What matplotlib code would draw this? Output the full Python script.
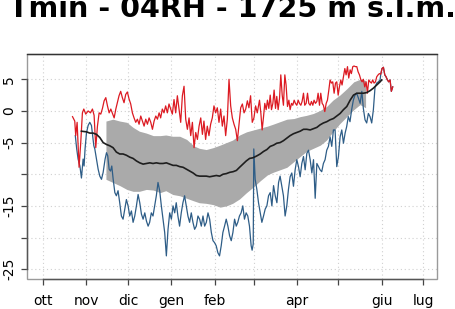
import matplotlib
matplotlib.use("Agg")
import matplotlib.pyplot as plt
from matplotlib.patches import Rectangle

# days counted from 1 October
max_days = [21.0, 22.6, 23.3, 24.3, 25.7, 26.9, 28.1, 29.1, 30.5, 32.2, 33.9, 35.3, 36.5, 37.7,
            38.9, 40.1, 41.3, 42.5, 43.7, 44.9, 46.1, 47.3, 48.5, 49.7, 50.9, 52.1, 53.2, 54.4,
            55.6, 56.8, 58.0, 59.2, 60.4, 61.6, 62.8, 64.0, 65.2, 66.4, 67.6, 68.8, 70.0, 71.2,
            72.4, 73.6, 74.8, 76.0, 77.2, 78.4, 79.6, 80.8, 82.0, 83.2, 84.3, 85.5, 86.7, 87.9,
            89.1, 90.3, 91.5, 92.7, 93.9, 95.1, 96.3, 97.5, 98.7, 99.9, 101.1, 102.3, 103.5,
            104.7, 105.9, 107.1, 108.3, 109.5, 110.7, 111.9, 113.1, 114.3, 115.4, 116.6, 117.8,
            119.0, 120.2, 121.4, 122.6, 123.8, 125.0, 126.2, 127.4, 128.6, 129.8, 131.0, 132.2,
            133.4, 134.6, 135.8, 137.0, 138.2, 139.4, 140.6, 141.8, 143.0, 144.2, 145.4, 146.6,
            147.7, 148.9, 150.1, 151.3, 152.5, 153.7, 155.3, 156.3, 157.2, 158.2, 159.1, 160.1,
            161.0, 162.0, 163.0, 163.9, 164.9, 165.8, 166.8, 167.7, 168.7, 169.7, 170.6, 171.6,
            172.5, 173.5, 174.4, 175.4, 176.4, 177.3, 178.3, 179.2, 180.2, 181.1, 182.1, 183.1,
            184.0, 185.0, 185.9, 186.9, 187.8, 188.8, 189.8, 190.7, 191.7, 192.6, 193.6, 194.5,
            195.5, 196.5, 197.4, 198.4, 199.3, 200.3, 201.2, 202.2, 203.2, 204.1, 205.1, 206.0,
            207.0, 207.9, 208.9, 209.9, 210.8, 211.8, 212.7, 213.7, 214.6, 215.6, 216.6, 217.5,
            218.5, 219.4, 220.4, 221.3, 222.3, 223.2, 224.2, 225.2, 226.1, 227.1, 228.0, 229.0,
            229.9, 230.9, 231.9, 232.8, 233.8, 234.7, 235.7, 236.6, 237.6, 238.6, 239.5, 240.5,
            241.4, 242.4, 243.3, 244.3, 245.3, 246.2, 247.2, 248.1, 249.1, 250.0, 251.0]
max_vals = [-0.9, -1.6, -3.9, -1.8, -8.9, -5.0, -0.3, 0.3, -0.5, 0.0, -0.3, 0.3, -0.7, -5.8,
            -2.4, -0.3, -0.5, 0.4, 1.6, 2.1, 0.8, -0.3, 0.3, -0.4, -1.1, 0.3, 1.3, 2.4,
            3.1, 2.1, 1.3, 2.6, 3.0, 1.9, 1.1, -0.3, -1.1, -1.8, -1.3, -2.1, -0.8, -1.6,
            -2.4, -1.3, -2.1, -1.1, -1.8, -2.9, -1.6, -0.8, -1.3, -0.3, -1.1, 0.3, -0.3, 0.8,
            -0.3, 1.1, 0.3, -0.5, 1.8, -0.3, 2.4, 0.3, -1.8, 2.4, 3.9, -1.3, -2.9,
            -1.1, -3.9, -1.8, -5.8, -3.4, -4.5, -2.4, -1.1, -3.7, -1.6, -4.5, -2.4,
            -3.9, -2.1, -1.1, 0.8, -0.3, 0.5, -1.8, 0.3, -2.4, -0.8, -3.9, -1.3,
            5.0, 0.8, -1.1, -2.1, -2.9, -4.7, -2.1, 0.5, 1.1, -0.3, 0.3, 1.6,
            0.5, 2.4, -1.8, -1.1, 0.8, -0.3, 1.7, -0.4, -3.0, -0.9, 1.2, 0.2,
            1.7, 0.4, 2.5, 0.2, 1.2, 3.3, 0.4, 2.3, 0.2, 2.0, 5.7, 2.5,
            0.9, 5.7, 4.1, 0.7, 1.7, 0.2, 1.2, 0.9, 1.7, 1.2, 0.9, 1.7,
            1.2, 0.9, 1.5, 2.8, 0.9, 1.2, 2.8, 1.2, 0.9, 1.5, 0.9, 1.7,
            1.2, 1.5, 2.8, 0.9, 2.8, 1.2, 0.9, -0.1, 1.2, 1.7, 3.3, 4.9,
            4.4, 4.6, 2.8, 4.4, 4.6, 2.5, 3.8, 4.9, 4.1, 5.4, 6.7, 5.7,
            7.0, 5.2, 6.5, 5.9, 7.0, 7.1, 7.0, 7.0, 6.2, 5.7, 5.0, 4.6,
            5.0, 3.8, 4.6, 2.8, 4.9, 4.6, 4.4, 4.9, 4.4, 4.6, 5.4, 5.7,
            5.9, 5.8, 6.7, 6.9, 5.7, 5.4, 4.9, 4.6, 4.9, 3.1, 3.8]

min_days = [23.0, 24.0, 25.0, 26.3, 27.4, 28.6, 29.3, 30.0, 31.0, 32.2, 33.4, 34.6, 35.3, 36.3,
            37.0, 38.2, 39.4, 40.6, 41.8, 43.0, 43.7, 44.4, 45.4, 46.3, 47.3, 48.3, 49.2, 50.2,
            51.4, 52.5, 53.7, 54.9, 56.1, 57.3, 58.5, 59.7, 60.9, 62.1, 63.3, 64.5, 65.7, 66.9,
            68.1, 69.3, 70.5, 71.7, 72.9, 74.1, 75.3, 76.4, 77.6, 78.8, 80.0, 81.2, 82.4, 83.6,
            84.8, 86.0, 87.2, 88.4, 89.6, 90.8, 92.0, 93.2, 94.4, 95.5, 96.7, 97.9, 99.1, 100.3,
            101.5, 102.7, 103.9, 105.1, 106.3, 107.5, 108.7, 109.9, 111.1, 112.3, 113.5, 114.7,
            115.9, 117.1, 118.3, 119.5, 120.7, 121.9, 123.0, 124.2, 125.4, 126.6, 127.8, 129.0,
            130.2, 131.4, 132.6, 133.8, 135.0, 136.2, 137.4, 138.6, 139.7, 140.9, 142.1, 143.3,
            144.5, 145.7, 146.9, 148.1, 149.3, 150.0, 150.8, 151.2, 152.2, 153.4, 154.6, 155.8,
            157.0, 158.2, 159.4, 160.6, 161.8, 163.0, 164.2, 165.4, 166.6, 167.8, 169.0, 170.1,
            171.3, 172.5, 173.7, 174.9, 176.1, 177.3, 178.5, 179.7, 180.9, 182.1, 183.3, 184.5,
            185.7, 186.9, 188.1, 189.3, 190.5, 191.7, 192.9, 194.1, 195.3, 196.5, 197.7, 198.8,
            200.0, 201.2, 202.4, 203.6, 204.8, 206.0, 207.2, 208.4, 209.6, 210.8, 212.0, 213.2,
            214.4, 215.6, 216.8, 217.9, 219.1, 220.3, 221.5, 222.7, 223.9, 225.1, 226.4, 227.6,
            228.8, 229.9, 231.1, 232.3, 233.5, 234.7, 235.9, 237.1, 238.3, 239.5, 240.7, 241.9,
            242.4, 243.3, 244.3, 245.3, 246.2, 247.2, 248.1, 249.1, 250.0, 251.0]
min_vals = [-3.9, -6.0, -7.6, -8.7, -10.6, -7.6, -8.7, -6.0, -3.5, -2.3, -1.8, -2.3, -3.6, -5.5,
            -6.0, -7.6, -9.2, -10.3, -10.8, -9.7, -8.7, -7.6, -6.6, -7.1, -9.2, -9.5, -8.7, -10.8,
            -12.9, -13.4, -12.6, -14.5, -16.6, -17.1, -15.5, -14.0, -15.0, -16.6, -15.8, -17.6, -16.6, -15.0,
            -13.2, -14.5, -16.3, -17.1, -16.1, -17.4, -18.2, -17.6, -16.1, -16.6, -15.0, -13.4, -11.3, -12.6,
            -15.0, -17.1, -19.2, -22.9, -18.7, -16.1, -17.1, -15.0, -16.1, -14.5, -16.6, -18.2, -16.1, -14.5,
            -13.4, -15.0, -16.6, -17.6, -16.1, -17.6, -18.7, -18.2, -16.6, -17.1, -18.2, -16.6,
            -18.2, -17.6, -16.1, -17.1, -19.2, -20.5, -20.8, -21.3, -22.4, -22.9, -21.3, -19.2,
            -18.2, -17.1, -18.2, -19.7, -20.5, -19.2, -17.1, -18.2, -17.6, -16.6, -16.1, -15.0,
            -17.1, -16.1, -16.6, -18.2, -21.3, -22.0, -21.0, -6.0, -10.8, -12.4, -14.5, -16.1,
            -17.6, -16.6, -15.5, -15.0, -13.4, -12.9, -15.0, -11.8, -13.4, -14.5, -11.3, -10.3,
            -11.8, -13.4, -16.6, -15.0, -12.4, -10.4, -9.8, -11.9, -9.3, -7.7, -8.8, -10.4,
            -8.3, -7.2, -9.3, -6.7, -6.2, -7.7, -9.8, -7.7, -13.8, -8.3, -8.8, -9.3,
            -9.6, -8.3, -7.7, -6.2, -5.6, -4.1, -5.6, -3.0, -3.0, -8.8, -7.2, -4.1,
            -3.0, -5.1, -3.5, -2.5, -0.9, -1.7, 0.2, 1.7, 2.5, 2.8, 2.0, 1.2,
            3.1, 0.4, -1.4, -1.9, -0.4, -0.9, -1.9, 0.2, 3.8, 4.4, 4.6, 4.9,
            5.8, 6.7, 6.9, 5.7, 5.4, 4.9, 4.6, 4.9, 3.1, 3.8]

mean_days = [27.4, 31.0, 33.4, 35.8, 38.2, 40.6, 43.0, 45.4, 47.7, 50.1, 52.5, 54.9, 57.3, 59.7,
             62.1, 64.5, 66.9, 69.3, 71.7, 74.1, 76.5, 78.8, 81.2, 83.6, 86.0, 88.4, 90.8, 93.2,
             95.6, 98.0, 100.4, 102.8, 105.2, 107.6, 110.0, 112.3, 114.7, 117.1, 119.5, 121.9,
             124.3, 126.7, 129.1, 131.5, 133.9, 136.3, 138.7, 141.0, 143.4, 145.8, 148.2, 150.6,
             153.4, 155.8, 158.2, 160.6, 163.0, 165.4, 167.7, 170.1, 172.5, 174.9, 177.3, 179.7,
             182.1, 184.5, 186.9, 189.3, 191.7, 194.1, 196.5, 198.8, 201.2, 203.6, 206.0, 208.4,
             210.8, 213.2, 215.6, 218.0, 220.4, 222.8, 225.2, 227.6, 229.9, 232.3, 234.7, 237.1,
             239.5, 241.9, 243.1]
mean_vals = [-3.2, -3.3, -3.5, -3.5, -3.7, -4.2, -5.0, -5.3, -5.5, -5.8, -6.5, -6.8, -6.8, -7.0,
             -7.3, -7.5, -7.9, -8.2, -8.4, -8.3, -8.2, -8.3, -8.2, -8.3, -8.3, -8.2, -8.4, -8.6,
             -8.6, -8.8, -8.9, -9.2, -9.5, -9.8, -10.2, -10.3, -10.3, -10.3, -10.4, -10.3,
             -10.2, -10.3, -10.0, -9.9, -9.7, -9.6, -9.4, -8.9, -8.4, -7.9, -7.5, -7.4,
             -7.1, -6.8, -6.4, -6.1, -5.6, -5.4, -5.1, -5.0, -4.7, -4.3, -3.9, -3.6,
             -3.4, -3.2, -2.9, -2.9, -3.0, -2.8, -2.6, -2.2, -1.9, -1.7, -1.4, -1.2,
             -0.8, -0.4, 0.2, 0.7, 1.7, 2.5, 2.8, 2.8, 2.8, 2.9, 3.2, 3.6,
             4.1, 4.6, 4.9]

band_days = [45, 50, 55, 60, 64.5, 69, 74, 79, 84, 88, 93, 98, 103, 108, 112, 117, 122, 127,
             131.5, 136, 141, 146, 151, 156, 161, 165, 170, 175, 180, 184.5, 189, 194, 199,
             203.5, 208, 213, 218, 223, 227.5, 230, 231.5]
band_hi = [-1.6, -1.3, -1.6, -1.8, -2.6, -3.2, -3.5, -3.9, -3.9, -3.8, -4.0, -4.0, -4.5, -5.5,
           -5.9, -6.1, -5.8, -5.4, -5.0, -4.6, -3.8, -3.3, -3.0, -2.7, -2.4, -2.1, -1.7, -1.3,
           -1.2, -0.9, -0.7, -0.4, 0.1, 0.7, 1.7, 2.5, 3.5, 4.6, 5.0, 4.9, 4.8]
band_lo = [-10.8, -11.3, -11.8, -12.4, -12.7, -12.7, -12.4, -12.5, -12.9, -12.6, -13.2, -13.4,
           -13.8, -14.2, -14.5, -14.6, -14.8, -15.2, -15.0, -14.6, -13.9, -12.9, -12.0, -11.0,
           -10.1, -9.7, -9.3, -8.9, -8.0, -7.2, -6.4, -5.9, -5.4, -4.6, -3.3, -2.0, -0.9, 0.2,
           1.0, 0.7, 0.5]

month_ticks = [0, 31, 61, 92, 123, 151, 182, 212, 243, 273]
month_labels = ["ott", "nov", "dic", "gen", "feb", "", "apr", "", "giu", "lug"]
y_ticks = [-25, -20, -15, -10, -5, 0, 5]
y_labels = ["-25", "", "-15", "", "-5", "0", "5"]

fig = plt.figure(figsize=(4.55, 3.09), dpi=100)
ax = fig.add_axes([27 / 455, 1 - 279.3 / 309, 410 / 455, 225 / 309])

ax.fill_between(band_days, band_lo, band_hi, color="#aaaaaa", lw=0, zorder=2)
ax.plot(min_days, min_vals, color="#2e5d87", lw=0.9, zorder=3)
ax.plot(max_days, max_vals, color="#dc1a22", lw=0.9, zorder=4)
ax.plot(mean_days, mean_vals, color="#1e1e1e", lw=1.2, zorder=5)

ax.set_xlim(-11.7, 282.8)
ax.set_ylim(-26.6, 8.95)
ax.set_xticks(month_ticks)
ax.set_xticklabels(month_labels)
ax.set_yticks(y_ticks)
ax.set_yticklabels(y_labels, rotation=90, va="center")
ax.grid(True, color="#d0d0d0", ls=(0, (1, 2.5)), lw=0.8, zorder=0)
ax.set_axisbelow(True)

ax.tick_params(axis="both", length=4.3, width=0.9, color="#444444", labelsize=10)
ax.tick_params(axis="x", pad=6)
ax.tick_params(axis="y", pad=3.5)

# R style: gray box plus darker axis lines spanning the ticks
ax.add_patch(Rectangle((0, 0), 1, 1, transform=ax.transAxes, fill=False,
                       ec="#9a9a9a", lw=1.0, clip_on=False, zorder=6))
for side in ["left", "bottom", "right"]:
    ax.spines[side].set_color("#555555")
ax.spines["right"].set_visible(False)
ax.spines["left"].set_bounds(-25, 5)
ax.spines["bottom"].set_bounds(0, 273)
ax.spines["top"].set_color("#333333")
for s in ax.spines.values():
    s.set_linewidth(1.0)
    s.set_zorder(7)

fig.text(232 / 455, 1 - 17.3 / 309, "Tmin - 04RH - 1725 m s.l.m.", ha="center",
         va="baseline", fontsize=20.6, fontweight="bold")

fig.savefig("out.png", dpi=100)
